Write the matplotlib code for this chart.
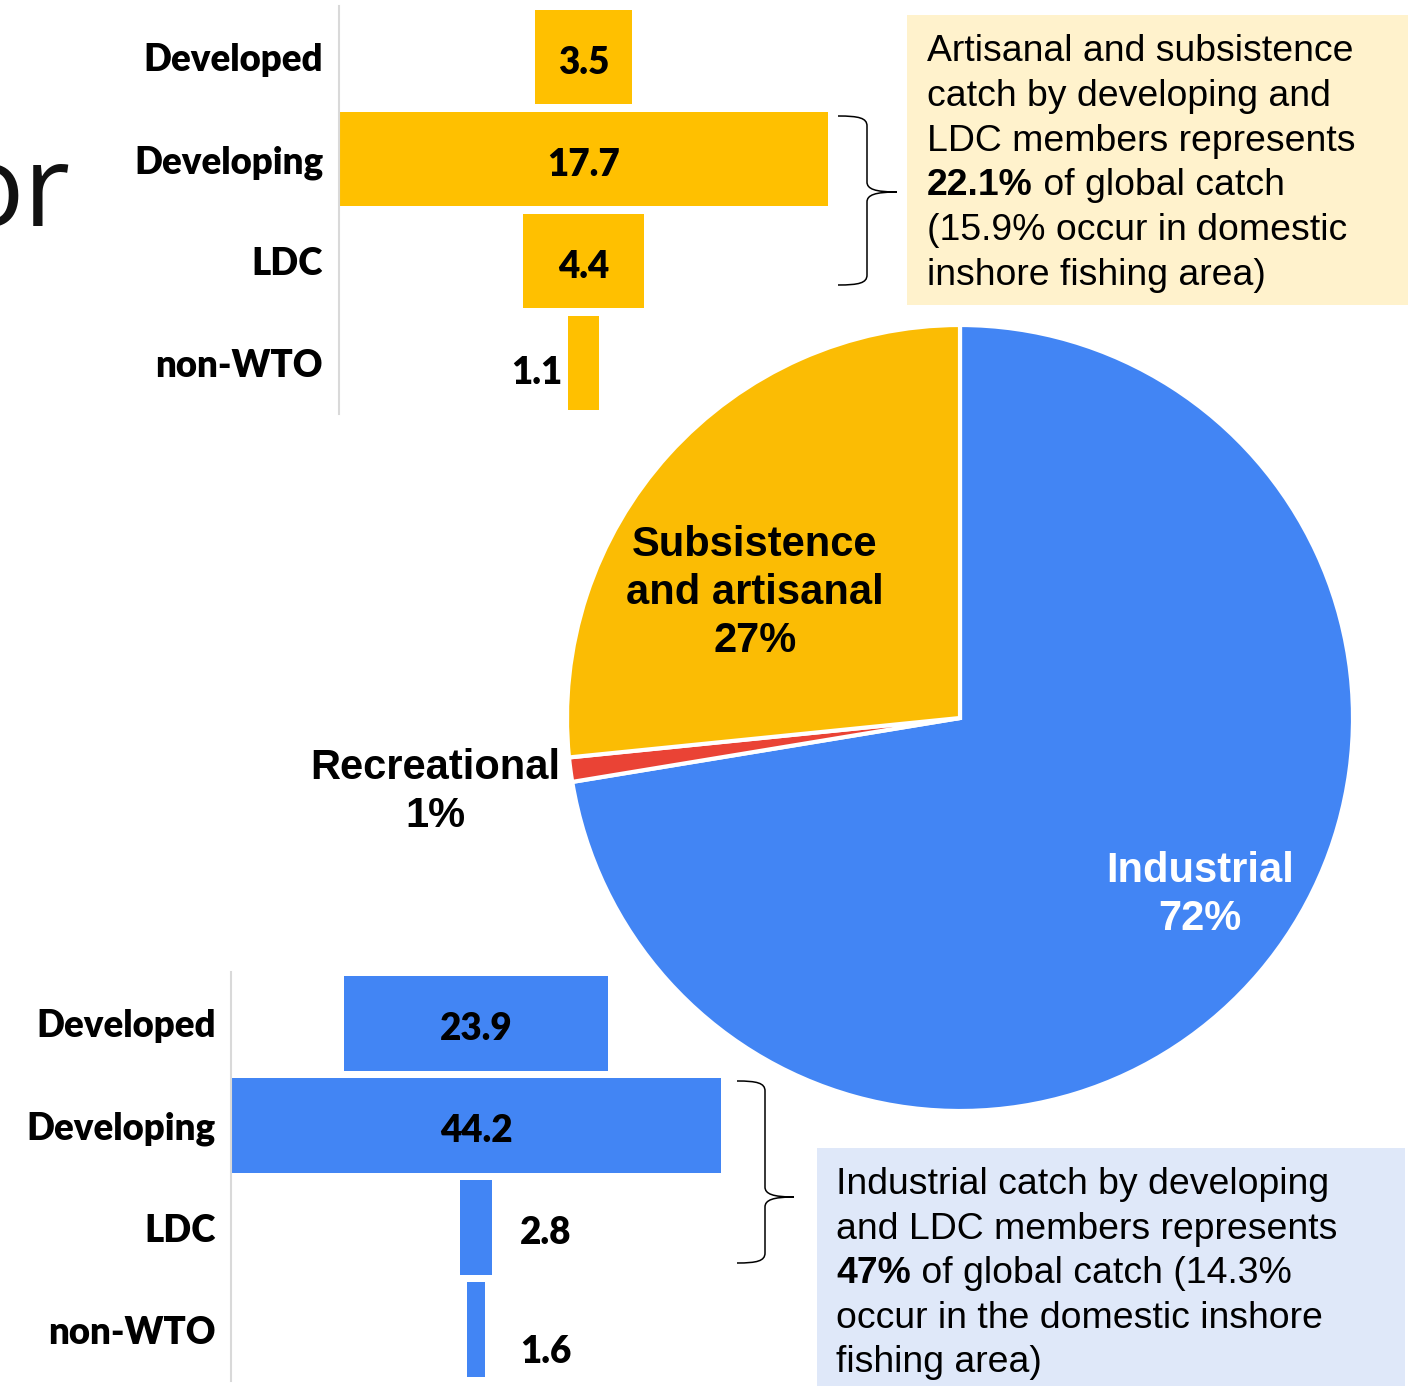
import matplotlib
matplotlib.use('Agg')
import matplotlib.pyplot as plt
from matplotlib.path import Path
from matplotlib.patches import PathPatch, Rectangle
from matplotlib.transforms import ScaledTranslation

# ---------------- data ----------------
categories = ['Developed', 'Developing', 'LDC', 'non-WTO']
artisanal_catch = [3.5, 17.7, 4.4, 1.1]
industrial_catch = [23.9, 44.2, 2.8, 1.6]
pie_names = ['Industrial', 'Recreational', 'Subsistence\nand artisanal']
pie_shares = [72.4, 1.0, 26.6]

top_note = [("", "Artisanal and subsistence"),
            ("", "catch by developing and"),
            ("", "LDC members represents"),
            ("22.1%", " of global catch"),
            ("", "(15.9% occur in domestic"),
            ("", "inshore fishing area)")]
bottom_note = [("", "Industrial catch by developing"),
               ("", "and LDC members represents"),
               ("47%", " of global catch (14.3%"),
               ("", "occur in the domestic inshore"),
               ("", "fishing area)")]

# ---------------- style ----------------
W, H, DPI = 1408, 1386, 100
YELLOW_BAR = '#FFC000'
BLUE_BAR = '#4285F4'
PIE_COLORS = ['#4285F4', '#EA4335', '#FBBC04']
LABEL_FONT = ['Lato', 'DejaVu Sans']
LABEL_WEIGHT = 800
ARIAL = ['Liberation Sans', 'DejaVu Sans']
NOTE_SIZE = 26.9

fig = plt.figure(figsize=(W / DPI, H / DPI), dpi=DPI)
fig.patch.set_facecolor('white')


def fig_rect(x0, y0, x1, y1):
    return [x0 / W, 1 - y1 / H, (x1 - x0) / W, (y1 - y0) / H]


def funnel(rect, values, color, half, pad, label_pos):
    ax = fig.add_axes(rect)
    ys = list(range(len(values)))
    ax.barh(ys, values, left=[-v / 2 for v in values], height=0.93,
            color=color, zorder=2)
    ax.set_xlim(-half, half)
    ax.set_ylim(len(values) - 0.5, -0.5)
    ax.set_yticks(ys)
    ax.set_yticklabels(categories, fontsize=26.4, family=LABEL_FONT,
                       weight=LABEL_WEIGHT)
    shift = ScaledTranslation(0, -4 / DPI, fig.dpi_scale_trans)
    for lab in ax.get_yticklabels():
        lab.set_transform(lab.get_transform() + shift)
    ax.tick_params(axis='y', length=0, pad=pad)
    ax.set_xticks([])
    for s in ['top', 'right', 'bottom']:
        ax.spines[s].set_visible(False)
    ax.spines['left'].set_color('#d9d9d9')
    ax.spines['left'].set_linewidth(1.5)
    ax.patch.set_alpha(0)
    for i, v in enumerate(values):
        spec = label_pos[i]
        if spec is None:
            ax.text(0, i + 0.055, f'{v}', ha='center', va='center',
                    fontsize=26.5, family=LABEL_FONT, weight=LABEL_WEIGHT,
                    zorder=3)
        else:
            x, dy, ha = spec
            ax.text(x, i + dy, f'{v}', ha=ha, va='center', fontsize=26.5,
                    family=LABEL_FONT, weight=LABEL_WEIGHT, zorder=3)
    return ax


funnel(fig_rect(339, 6, 828, 414), artisanal_catch, YELLOW_BAR, 8.85, 11.5,
       [None, None, None, (-0.76, 0.1, 'right')])
funnel(fig_rect(231, 972, 721, 1381), industrial_catch, BLUE_BAR, 22.1, 11,
       [None, None, (3.95, 0.05, 'left'), (3.95, 0.22, 'left')])

# ---------------- pie ----------------
axp = fig.add_axes(fig_rect(567, 325, 1353, 1111))
axp.pie(pie_shares, colors=PIE_COLORS, startangle=90, counterclock=False,
        radius=1, wedgeprops=dict(edgecolor='white', linewidth=3))
axp.set_xlim(-1, 1)
axp.set_ylim(-1, 1)
axp.set_aspect('equal')
axp.axis('off')

# ---------------- overlay (pixel coordinates) ----------------
ov = fig.add_axes([0, 0, 1, 1], zorder=10)
ov.set_xlim(0, W)
ov.set_ylim(H, 0)
ov.axis('off')
ov.patch.set_alpha(0)

label_anchor = [(1200, 882, 'white'), (435, 779, 'black'), (755, 556, 'black')]
for name, share, (x, y0, c) in zip(pie_names, pie_shares, label_anchor):
    lines = name.split('\n') + [f'{round(share)}%']
    for k, line in enumerate(lines):
        ov.text(x, y0 + 48 * k, line, ha='center', va='baseline',
                fontsize=30, weight='bold', family=ARIAL, color=c)

# slide title fragment
ov.text(71, 226, 'or', ha='right', va='baseline', fontsize=82,
        family=['Open Sans', 'DejaVu Sans'], weight='normal',
        color='#111111')

# note boxes
ov.add_patch(Rectangle((907, 15), 501, 290, facecolor='#FFF2CC',
                       edgecolor='none'))
ov.add_patch(Rectangle((817, 1148), 588, 240, facecolor='#DFE8F9',
                       edgecolor='none'))


def brace(x0, xv, xp, yt, ym, yb):
    r = 10
    verts = [(x0, yt), (xv - 8, yt), (xv, yt + 2), (xv, yt + r),
             (xv, ym - r),
             (xv, ym - 3), (xv + 8, ym), (xp, ym),
             (xv + 8, ym), (xv, ym + 3), (xv, ym + r),
             (xv, yb - r),
             (xv, yb - 2), (xv - 8, yb), (x0, yb)]
    C, L = Path.CURVE4, Path.LINETO
    codes = [Path.MOVETO, C, C, C, L, C, C, C, C, C, C, L, C, C, C]
    ov.add_patch(PathPatch(Path(verts, codes), facecolor='none',
                           edgecolor='black', linewidth=1.1))


brace(838, 867, 897, 116, 192, 285)
brace(737, 765, 794, 1081, 1197, 1263)

renderer = fig.canvas.get_renderer()


def note(lines, x0, y0, step):
    for k, (bold, rest) in enumerate(lines):
        y = y0 + step * k
        x = x0
        if bold:
            t = ov.text(x, y, bold, ha='left', va='baseline',
                        fontsize=NOTE_SIZE, weight='bold', family=ARIAL)
            bb = t.get_window_extent(renderer=renderer)
            x = ov.transData.inverted().transform((bb.x1, bb.y0))[0]
        ov.text(x, y, rest, ha='left', va='baseline', fontsize=NOTE_SIZE,
                family=ARIAL)


note(top_note, 927, 61, 44.8)
note(bottom_note, 836, 1194, 44.6)

fig.savefig('out.png', dpi=DPI)
